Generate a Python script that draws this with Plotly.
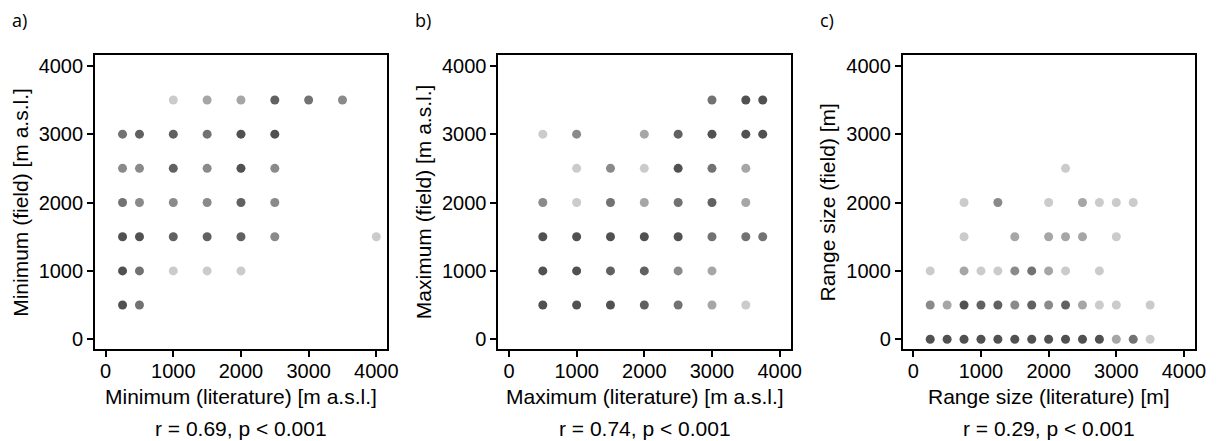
import plotly.graph_objects as go

# ---------------- data ----------------
# panel a: minimum elevation (literature vs field), n = number of overlapping species
a_x = [1000, 1500, 2000, 2500, 3000, 3500,
       250, 500, 1000, 1500, 2000, 2500,
       250, 500, 1000, 1500, 2000, 2500,
       250, 500, 1000, 1500, 2000, 2500,
       250, 500, 1000, 1500, 2000, 2500, 4000,
       250, 500, 1000, 1500, 2000,
       250, 500]
a_y = [3500, 3500, 3500, 3500, 3500, 3500,
       3000, 3000, 3000, 3000, 3000, 3000,
       2500, 2500, 2500, 2500, 2500, 2500,
       2000, 2000, 2000, 2000, 2000, 2000,
       1500, 1500, 1500, 1500, 1500, 1500, 1500,
       1000, 1000, 1000, 1000, 1000,
       500, 500]
a_n = [1, 2, 2, 5, 4, 3,
       4, 5, 5, 4, 6, 6,
       3, 3, 5, 3, 6, 3,
       4, 3, 3, 3, 5, 3,
       6, 6, 5, 5, 5, 3, 1,
       6, 4, 1, 1, 1,
       6, 4]

# panel b: maximum elevation
b_x = [3000, 3500, 3750,
       500, 1000, 2000, 2500, 3000, 3500, 3750,
       1000, 1500, 2000, 2500, 3000, 3500,
       500, 1000, 1500, 2000, 2500, 3000, 3500,
       500, 1000, 1500, 2000, 2500, 3000, 3500, 3750,
       500, 1000, 1500, 2000, 2500, 3000,
       500, 1000, 1500, 2000, 2500, 3000, 3500]
b_y = [3500, 3500, 3500,
       3000, 3000, 3000, 3000, 3000, 3000, 3000,
       2500, 2500, 2500, 2500, 2500, 2500,
       2000, 2000, 2000, 2000, 2000, 2000, 2000,
       1500, 1500, 1500, 1500, 1500, 1500, 1500, 1500,
       1000, 1000, 1000, 1000, 1000, 1000,
       500, 500, 500, 500, 500, 500, 500]
b_n = [4, 6, 6,
       1, 3, 2, 5, 6, 6, 6,
       1, 3, 1, 6, 4, 2,
       3, 1, 4, 2, 4, 5, 2,
       6, 6, 6, 6, 6, 4, 4, 4,
       6, 6, 5, 5, 3, 2,
       6, 6, 6, 5, 4, 2, 1]

# panel c: range size
c_x = [250, 500, 750, 1000, 1250, 1500, 1750, 2000, 2250, 2500, 2750, 3000, 3250, 3500,
       250, 500, 750, 1000, 1250, 1500, 1750, 2000, 2250, 2500, 2750, 3000, 3500,
       250, 750, 1000, 1250, 1500, 1750, 2000, 2250, 2750,
       750, 1500, 2000, 2250, 2500, 3000,
       750, 1250, 2000, 2500, 2750, 3000, 3250,
       2250]
c_y = [0] * 14 + [500] * 13 + [1000] * 9 + [1500] * 6 + [2000] * 7 + [2500]
c_n = [6, 6, 6, 6, 6, 6, 6, 6, 6, 6, 6, 2, 4, 1,
       3, 2, 6, 5, 5, 3, 5, 3, 5, 2, 1, 1, 1,
       1, 2, 1, 1, 3, 4, 2, 1, 1,
       1, 2, 2, 2, 2, 1,
       1, 3, 1, 2, 1, 1, 1,
       1]

tick_vals = [0, 1000, 2000, 3000, 4000]
tick_text = ["0", "1000", "2000", "3000", "4000"]

panel_labels = ["a)", "b)", "c)"]
x_titles = ["Minimum (literature) [m a.s.l.]", "Maximum (literature) [m a.s.l.]",
            "Range size (literature) [m]"]
y_titles = ["Minimum (field) [m a.s.l.]", "Maximum (field) [m a.s.l.]",
            "Range size (field) [m]"]
stats = ["r = 0.69, p < 0.001", "r = 0.74, p < 0.001", "r = 0.29, p < 0.001"]

# ---------------- styling ----------------
W, H = 1222, 441
gray_levels = ["#cbcbcb", "#a6a6a6", "#8a8a8a", "#727272", "#616161", "#515151"]
box_left = [96, 503, 911]
box_w = 295
box_top, box_bot = 55, 350
FONT = "Liberation Sans, Arial, sans-serif"


def px_x(p):
    return p / W


def px_y(p):
    return 1 - p / H


fig = go.Figure()
datasets = [(a_x, a_y, a_n), (b_x, b_y, b_n), (c_x, c_y, c_n)]
for i, (xs, ys, ns) in enumerate(datasets):
    sfx = "" if i == 0 else str(i + 1)
    fig.add_trace(go.Scatter(
        x=xs, y=ys, mode="markers",
        marker=dict(size=9, color=[gray_levels[min(n, 6) - 1] for n in ns],
                    line=dict(width=0)),
        xaxis="x" + sfx, yaxis="y" + sfx, showlegend=False,
        hoverinfo="x+y"))

layout = dict(width=W, height=H, margin=dict(l=0, r=0, t=0, b=0),
              plot_bgcolor="white", paper_bgcolor="white",
              font=dict(family=FONT, color="black"), autosize=False)

annotations = []
for i in range(3):
    sfx = "" if i == 0 else str(i + 1)
    l = box_left[i]
    r = l + box_w
    common = dict(showline=True, linecolor="black", linewidth=2, mirror=True,
                  ticks="outside", ticklen=6, tickwidth=1.5, tickcolor="black",
                  tickvals=tick_vals, ticktext=tick_text,
                  tickfont=dict(size=20, family=FONT, color="black"),
                  showgrid=False, zeroline=False, fixedrange=True)
    layout["xaxis" + sfx] = dict(common, domain=[px_x(l), px_x(r)],
                                 range=[-155, 4165], ticklabelstandoff=-3,
                                 anchor="y" + sfx)
    layout["yaxis" + sfx] = dict(common, domain=[px_y(box_bot), px_y(box_top)],
                                 range=[-146, 4160],
                                 anchor="x" + sfx)
    cx = (l + r) / 2
    annotations.append(dict(text=x_titles[i], x=px_x(cx), y=px_y(397),
                            xref="paper", yref="paper", showarrow=False,
                            xanchor="center", yanchor="middle",
                            font=dict(size=21, family=FONT, color="black")))
    annotations.append(dict(text=stats[i], x=px_x(cx), y=px_y(429),
                            xref="paper", yref="paper", showarrow=False,
                            xanchor="center", yanchor="middle",
                            font=dict(size=21, family=FONT, color="black")))
    annotations.append(dict(text=y_titles[i], x=px_x(l - 76), y=px_y((box_top + box_bot) / 2),
                            xref="paper", yref="paper", showarrow=False,
                            textangle=-90, xanchor="center", yanchor="middle",
                            font=dict(size=21, family=FONT, color="black")))
    annotations.append(dict(text=panel_labels[i], x=px_x(l - 86), y=px_y(20),
                            xref="paper", yref="paper", showarrow=False,
                            xanchor="left", yanchor="middle",
                            font=dict(size=18, family="Open Sans, sans-serif", color="black")))

layout["annotations"] = annotations
fig.update_layout(**layout)
fig.write_html("out.html")
